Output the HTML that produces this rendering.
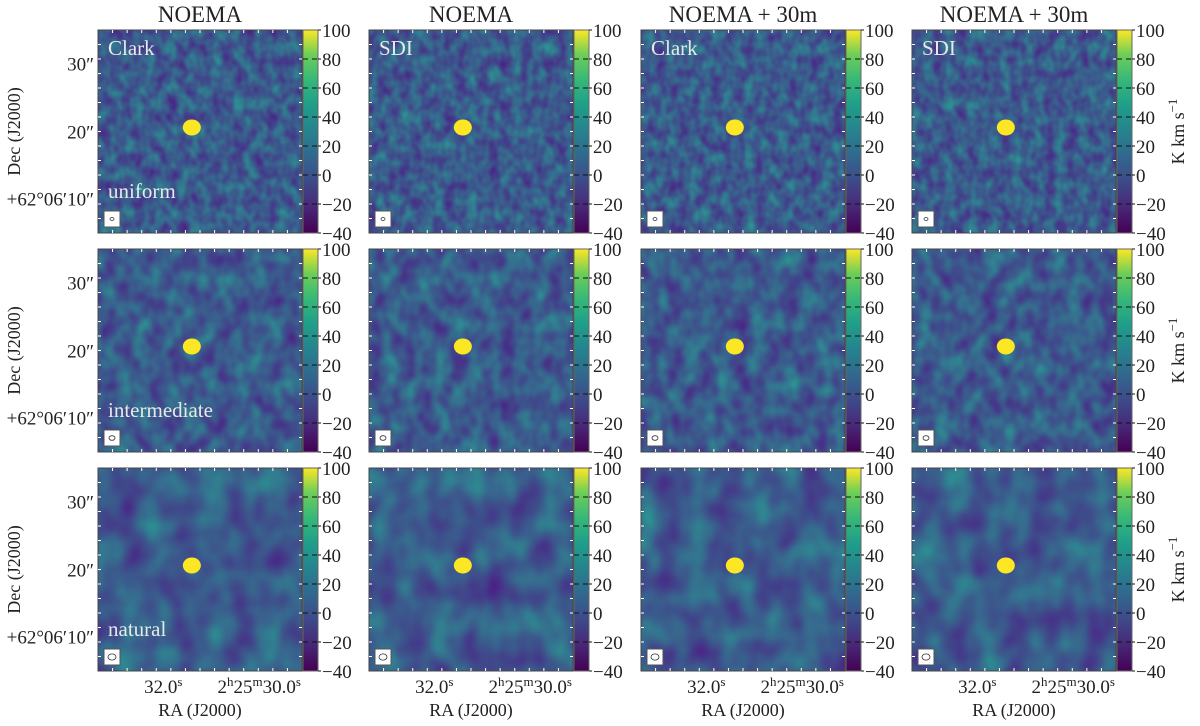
<!DOCTYPE html>
<html><head><meta charset="utf-8">
<style>
body{margin:0;background:#fff;width:1200px;height:721px;overflow:hidden;font-family:"Liberation Serif",serif;}
svg text{font-family:"Liberation Serif",serif;fill:#222;}
</style></head><body>
<svg id="fig" width="1200" height="721" xmlns="http://www.w3.org/2000/svg">
<defs>
<linearGradient id="vir" x1="0" y1="1" x2="0" y2="0">
<stop offset="0" stop-color="#440154"/><stop offset="0.13" stop-color="#482878"/>
<stop offset="0.25" stop-color="#3e4989"/><stop offset="0.38" stop-color="#31688e"/>
<stop offset="0.5" stop-color="#26828e"/><stop offset="0.63" stop-color="#1f9e89"/>
<stop offset="0.75" stop-color="#35b779"/><stop offset="0.88" stop-color="#6ece58"/>
<stop offset="1" stop-color="#fde725"/></linearGradient>
</defs>
</svg>
<script>
const colTitles=["NOEMA","NOEMA","NOEMA + 30m","NOEMA + 30m"];
const methods=["Clark","SDI","Clark","SDI"];
const weightings=["uniform","intermediate","natural"];
const cbTicks=[100,80,60,40,20,0,-20,-40];
const cbMin=-40, cbMax=100;
const decLabels=["30\u2033","20\u2033","+62\u00b006\u203210\u2033"];
const decFrac=[0.165,0.5,0.83];
const raFrac=[0.32,0.79];
const freqs=[0.09,0.06,0.035];

const NS="http://www.w3.org/2000/svg";
const svg=document.getElementById('fig');
const defs=svg.querySelector('defs');
const colX=[98,369,641,912], rowY=[30,249,468], W=204, H=203, CBW=15;
function el(t,a,p){const e=document.createElementNS(NS,t);for(const k in a)e.setAttribute(k,a[k]);(p||svg).appendChild(e);return e;}
function cbY(v,y0){return y0+H-(v-cbMin)/(cbMax-cbMin)*H;}

freqs.forEach((f,r)=>{
  const fl=el('filter',{id:'n'+r,x:0,y:0,width:'100%',height:'100%','color-interpolation-filters':'sRGB'},defs);
  el('feTurbulence',{type:'fractalNoise',baseFrequency:f+' '+(f*0.8),numOctaves:2,seed:r*7+3},fl);
  el('feColorMatrix',{type:'matrix',values:'-0.15 0 0 0 0.305  0.55 0 0 0 0.08  0.06 0 0 0 0.52  0 0 0 0 1'},fl);
});

colTitles.forEach((t,c)=>{
  const tt=el('text',{x:colX[c]+W/2,y:22,'text-anchor':'middle','font-size':23});
  tt.textContent=t;
  
  
});

for(let r=0;r<3;r++)for(let c=0;c<4;c++){
  const x=colX[c],y=rowY[r];
  const g=el('g',{});
  
  
  el('rect',{x:x,y:y,width:W,height:H,fill:'#37598c'},g);
  el('rect',{x:x,y:y,width:W,height:H,filter:'url(#n'+r+')'},g);
  const bx=x+W*0.46, by=y+H*0.48;
  const blob=el('ellipse',{cx:bx,cy:by,rx:9,ry:8,fill:'#fde725'},g);
  
  
  el('rect',{x:x,y:y,width:W,height:H,fill:'none',stroke:'#444','stroke-width':1},g);
  for(let i=1;i<14;i++){
    el('line',{x1:x+i*W/14,y1:y,x2:x+i*W/14,y2:y+3,stroke:'#fff'},g);
    el('line',{x1:x+i*W/14,y1:y+H,x2:x+i*W/14,y2:y+H-3,stroke:'#fff'},g);
    el('line',{x1:x,y1:y+i*H/14,x2:x+3,y2:y+i*H/14,stroke:'#fff'},g);
    el('line',{x1:x+W,y1:y+i*H/14,x2:x+W-3,y2:y+i*H/14,stroke:'#fff'},g);
  }
  const bm=el('rect',{x:x+6,y:y+H-22,width:16,height:16,fill:'#fff',stroke:'#555'},g);
  
  
  el('ellipse',{cx:x+14,cy:y+H-14,rx:2+r,ry:1.5+r*0.8,fill:'none',stroke:'#333','stroke-width':0.8},g);
  if(r===0){
    const m=el('text',{x:x+10,y:y+25,'font-size':21},g);
    m.setAttribute('style','fill:#e8e8e8');
    m.textContent=methods[c];
  }
  if(c===0){
    const w=el('text',{x:x+10,y:y+H-35,'font-size':21},g);
    w.setAttribute('style','fill:#e8e8e8');
    w.textContent=weightings[r];
    decLabels.forEach((d,i)=>{
      const dl=el('text',{x:x-4,y:y+H*decFrac[i]+7,'text-anchor':'end','font-size':19});
      dl.textContent=d;
      
      
    });
    const yl=el('text',{transform:`translate(20,${y+H/2}) rotate(-90)`,'text-anchor':'middle','font-size':18});
    yl.textContent='Dec (J2000)';
    
    
  }
  if(r===2){
    const a=el('text',{x:x+W*raFrac[0],y:y+H+22,'text-anchor':'middle','font-size':19});
    a.innerHTML='32.0<tspan font-size="13" dy="-7">s</tspan>';
    
    
    const b=el('text',{x:x+W*raFrac[1],y:y+H+22,'text-anchor':'middle','font-size':19});
    b.innerHTML='2<tspan font-size="13" dy="-7">h</tspan><tspan dy="7">25</tspan><tspan font-size="13" dy="-7">m</tspan><tspan dy="7">30.0</tspan><tspan font-size="13" dy="-7">s</tspan>';
    
    
    const xl=el('text',{x:x+W/2,y:y+H+45,'text-anchor':'middle','font-size':18});
    xl.textContent='RA (J2000)';
    
    
  }
  const cx=x+W+1;
  const cb=el('rect',{x:cx,y:y,width:CBW,height:H,fill:'url(#vir)',stroke:'#666'});
  
  
  cbTicks.forEach(v=>{
    const ty=cbY(v,y);
    if(v>cbMin&&v<cbMax) el('line',{x1:cx,y1:ty,x2:cx+CBW,y2:ty,stroke:'#111','stroke-dasharray':'5,4'});
    el('line',{x1:cx+CBW,y1:ty,x2:cx+CBW+3,y2:ty,stroke:'#111'});
    const tl=el('text',{x:cx+CBW+4,y:ty+7,'font-size':19});
    tl.textContent=v<0?'\u2212'+(-v):String(v);
    
    
  });
  if(c===3){
    const u=el('text',{transform:`translate(1184,${y+H/2}) rotate(-90)`,'text-anchor':'middle','font-size':18});
    u.innerHTML='K km s<tspan font-size="13" dy="-7">\u22121</tspan>';
    
    
  }
}
</script>
</body></html>
